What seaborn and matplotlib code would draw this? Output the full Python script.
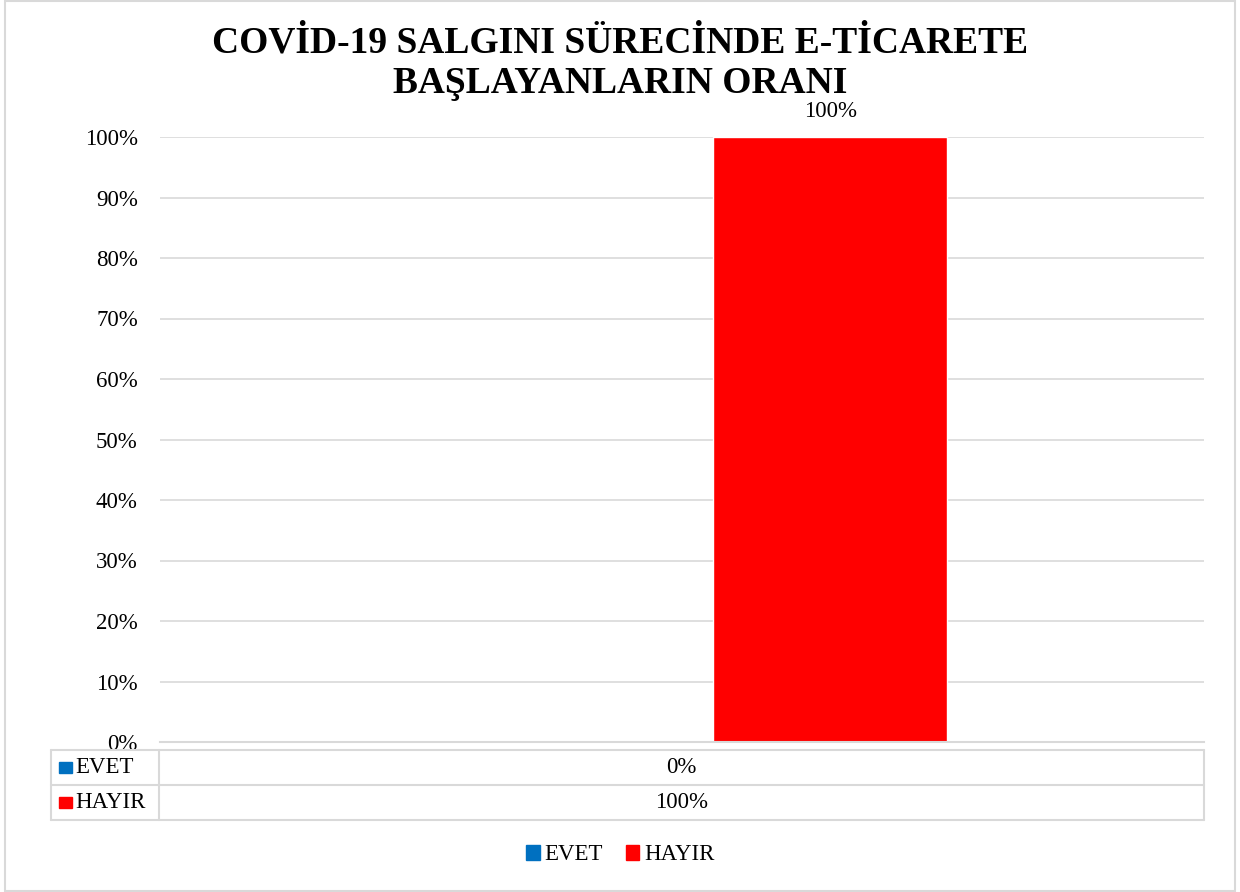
import pandas as pd
import matplotlib.pyplot as plt
import seaborn as sns
from matplotlib.lines import Line2D
from matplotlib.patches import Rectangle
from matplotlib.ticker import FuncFormatter

# Data
series = ['EVET', 'HAYIR']
values = [0, 100]
colors = ['#0070C0', '#FF0000']
yticks = [0, 10, 20, 30, 40, 50, 60, 70, 80, 90, 100]
title = 'COVİD-19 SALGINI SÜRECİNDE E-TİCARETE\nBAŞLAYANLARIN ORANI'

df = pd.DataFrame({'kategori': [''] * len(series), 'seri': series, 'oran': values})

sns.set_style('white')
plt.rcParams['font.family'] = ['Liberation Serif', 'DejaVu Serif']
plt.rcParams['text.color'] = 'black'
plt.rcParams['ytick.color'] = 'black'
plt.rcParams['ytick.labelcolor'] = 'black'
grid_col = '#d9d9d9'

fig = plt.figure(figsize=(12.4, 8.92), dpi=100)
fig.patches.append(Rectangle((0.004, 0.001), 0.992, 0.998, transform=fig.transFigure,
                             fill=False, edgecolor=grid_col, linewidth=1.5))

ax = fig.add_axes([160 / 1240, 1 - 742 / 892, 1044 / 1240, 605 / 892])
sns.barplot(data=df, x='kategori', y='oran', hue='seri', palette=colors,
            width=0.568, gap=0.211, ax=ax, legend=False, saturation=1)
ax.set_xlim(-0.5, 0.5)
ax.set_ylim(0, 100)
ax.set_yticks(yticks)
ax.yaxis.set_major_formatter(FuncFormatter(lambda v, p: f'{v:.0f}%'))
ax.tick_params(axis='y', labelsize=16.5, length=0, pad=16, labelcolor='black')
ax.tick_params(axis='x', length=0, labelbottom=False)
ax.set_xlabel('')
ax.set_ylabel('')
ax.grid(axis='y', color=grid_col, linewidth=1.2)
ax.set_axisbelow(True)
for s in ['top', 'right', 'left']:
    ax.spines[s].set_visible(False)
ax.spines['bottom'].set_color(grid_col)
ax.spines['bottom'].set_linewidth(1.5)

# data label only for the visible bar
ax.bar_label(ax.containers[1], labels=[f'{values[1]}%'], padding=11, fontsize=16.5,
             color='black')

fig.text(0.5, 1 - 63 / 892, title, ha='center', va='center', fontsize=27,
         fontweight='bold', linespacing=1.2, color='black')

# data table under the axis
tab = fig.add_axes([51 / 1240, 1 - 820 / 892, 1153 / 1240, 70 / 892])
tab.set_xlim(0, 1)
tab.set_ylim(0, len(series))
tab.axis('off')
sep = (159 - 51) / 1153
for y in range(len(series) + 1):
    tab.add_line(Line2D([0, 1], [y, y], color=grid_col, linewidth=1.5, clip_on=False))
for x in [0, sep, 1]:
    tab.add_line(Line2D([x, x], [0, len(series)], color=grid_col, linewidth=1.5, clip_on=False))
for i, (name, val, col) in enumerate(zip(series, values, colors)):
    yc = len(series) - i - 0.5
    tab.add_patch(Rectangle((0.0069, yc - 0.15), 0.0113, 0.3, color=col))
    tab.text(0.021, yc, name, va='center', ha='left', fontsize=16.5, color='black')
    tab.text((sep + 1) / 2, yc, f'{val}%', va='center', ha='center', fontsize=16.5,
             color='black')

handles = [Rectangle((0, 0), 1, 1, color=c) for c in colors]
fig.legend(handles, series, loc='center', bbox_to_anchor=(0.5, 1 - 855 / 892), ncol=2,
           frameon=False, fontsize=16.5, handlelength=0.6, handleheight=0.6,
           handletextpad=0.2, columnspacing=1.0, labelcolor='black')

fig.savefig('out.png', dpi=100)
